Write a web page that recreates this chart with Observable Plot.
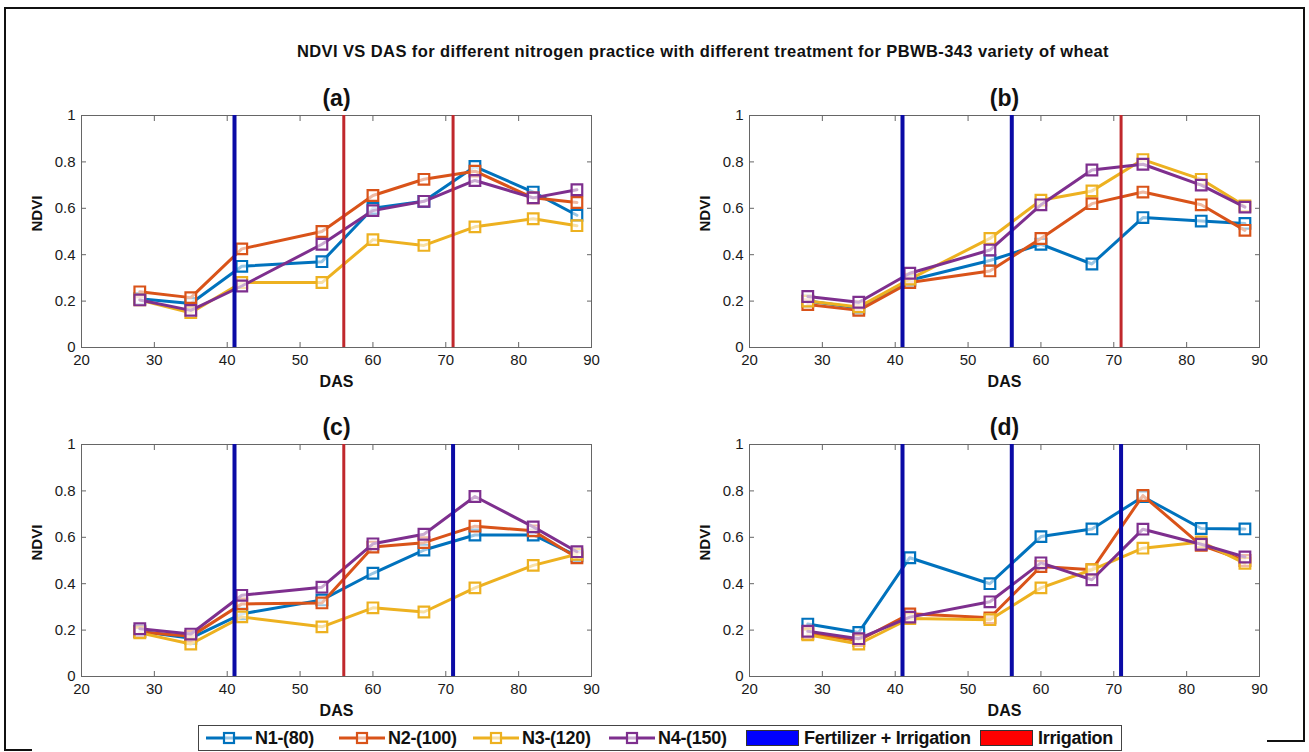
<!DOCTYPE html>
<html>
<head>
<meta charset="utf-8">
<script src="https://cdn.jsdelivr.net/npm/d3@7"></script>
<script src="https://cdn.jsdelivr.net/npm/@observablehq/plot@0.6"></script>
<style>
  body { margin: 0; background: #fff; font-family: Arial, "Liberation Sans", sans-serif; }
  #page { position: relative; width: 1309px; height: 752px; overflow: hidden; background: #fff; }
  .edge { position: absolute; background: #111; }
  .panel { position: absolute; }
  #title { position: absolute; top: 42px; left: 0; width: 1406px; text-align: center; font-size: 16.5px; font-weight: bold; letter-spacing: 0.4px; color: #111; white-space: nowrap; }
  #legend { position: absolute; left: 198px; top: 725px; width: 922px; height: 24px; border: 1px solid #444; background: #fff; }
  #legend .item { position: absolute; top: 0; height: 24px; display: flex; align-items: center; }
  #legend .lab { font-size: 18px; font-weight: bold; color: #111; white-space: nowrap; letter-spacing: -0.3px; }
  #legend .swatch { height: 16px; border: 1px solid #333; box-sizing: border-box; }
</style>
</head>
<body>
<div id="page">
  <div id="title">NDVI VS DAS for different nitrogen practice with different treatment for PBWB-343 variety of wheat</div>
</div>
<script>
// Days after sowing at which NDVI was measured
const das = [28, 35, 42, 53, 60, 67, 74, 82, 88];
const xTicks = [20, 30, 40, 50, 60, 70, 80, 90];
const yTicks = [0, 0.2, 0.4, 0.6, 0.8, 1];

// Nitrogen treatments (kg/ha) and their colours
const seriesNames = ["N1-(80)", "N2-(100)", "N3-(120)", "N4-(150)"];
const seriesColors = ["#0072BD", "#D95319", "#EDB120", "#7E2F8E"];

// Panel (a)
const a_N1 = [0.21, 0.19, 0.35, 0.37, 0.60, 0.63, 0.78, 0.67, 0.57];
const a_N2 = [0.24, 0.215, 0.425, 0.50, 0.655, 0.725, 0.76, 0.645, 0.625];
const a_N3 = [0.205, 0.15, 0.28, 0.28, 0.465, 0.44, 0.52, 0.555, 0.525];
const a_N4 = [0.205, 0.16, 0.265, 0.445, 0.59, 0.63, 0.72, 0.645, 0.68];
const a_fert = [41];
const a_irr = [56, 71];

// Panel (b)
const b_N1 = [0.20, 0.17, 0.29, 0.375, 0.445, 0.36, 0.56, 0.545, 0.535];
const b_N2 = [0.185, 0.16, 0.28, 0.33, 0.47, 0.62, 0.67, 0.615, 0.505];
const b_N3 = [0.20, 0.175, 0.295, 0.47, 0.635, 0.675, 0.81, 0.725, 0.61];
const b_N4 = [0.22, 0.195, 0.32, 0.42, 0.615, 0.765, 0.79, 0.70, 0.605];
const b_fert = [41, 56];
const b_irr = [71];

// Panel (c)
const c_N1 = [0.195, 0.165, 0.27, 0.33, 0.445, 0.545, 0.61, 0.61, 0.52];
const c_N2 = [0.192, 0.173, 0.313, 0.317, 0.558, 0.577, 0.648, 0.628, 0.512];
const c_N3 = [0.188, 0.14, 0.257, 0.214, 0.296, 0.278, 0.382, 0.479, 0.527];
const c_N4 = [0.206, 0.183, 0.35, 0.385, 0.572, 0.613, 0.776, 0.645, 0.538];
const c_fert = [41, 71];
const c_irr = [56];

// Panel (d)
const d_N1 = [0.226, 0.19, 0.512, 0.40, 0.603, 0.636, 0.775, 0.638, 0.636];
const d_N2 = [0.185, 0.155, 0.27, 0.253, 0.474, 0.46, 0.78, 0.565, 0.50];
const d_N3 = [0.18, 0.14, 0.25, 0.245, 0.382, 0.46, 0.553, 0.58, 0.488];
const d_N4 = [0.195, 0.163, 0.256, 0.322, 0.49, 0.417, 0.635, 0.57, 0.515];
const d_fert = [41, 56, 71];
const d_irr = [];

const fertLineColor = "#0b0ba6";
const irrLineColor = "#c0282c";
const fertSwatch = "#0000ff";
const irrSwatch = "#ff0000";
const axisGray = "#666";

const panels = [
  {label: "(a)", series: [a_N1, a_N2, a_N3, a_N4], fert: a_fert, irr: a_irr, left: 0, top: 70},
  {label: "(b)", series: [b_N1, b_N2, b_N3, b_N4], fert: b_fert, irr: b_irr, left: 668, top: 70},
  {label: "(c)", series: [c_N1, c_N2, c_N3, c_N4], fert: c_fert, irr: c_irr, left: 0, top: 399},
  {label: "(d)", series: [d_N1, d_N2, d_N3, d_N4], fert: d_fert, irr: d_irr, left: 668, top: 399}
];

function drawPanel(p) {
  const marks = [Plot.frame({stroke: axisGray, strokeWidth: 1})];
  p.series.forEach((vals, i) => {
    const rows = vals.map((v, j) => ({das: das[j], ndvi: v}));
    marks.push(Plot.line(rows, {x: "das", y: "ndvi", stroke: seriesColors[i], strokeWidth: 3}));
    marks.push(Plot.dot(rows, {x: "das", y: "ndvi", symbol: "square", r: 6, stroke: seriesColors[i], strokeWidth: 2.2, fill: "#fff", fillOpacity: 0.6}));
  });
  marks.push(Plot.ruleX(p.irr, {x: d => d, stroke: irrLineColor, strokeWidth: 3}));
  marks.push(Plot.ruleX(p.fert, {x: d => d, stroke: fertLineColor, strokeWidth: 4}));
  marks.push(
    Plot.axisX({anchor: "bottom", ticks: xTicks, tickSize: -5, tickPadding: 12, tickFormat: d => String(d), label: null, stroke: axisGray, fill: "#1a1a1a", fontSize: 15}),
    Plot.axisX({anchor: "top", ticks: xTicks, tickSize: -5, label: null, stroke: axisGray, fill: "none"}),
    Plot.axisY({anchor: "left", ticks: yTicks, tickSize: -5, tickPadding: 11, tickFormat: d3.format("~g"), label: null, stroke: axisGray, fill: "#1a1a1a", fontSize: 15}),
    Plot.axisY({anchor: "right", ticks: yTicks, tickSize: -5, label: null, stroke: axisGray, fill: "none"}),
    Plot.text([p.label], {text: d => d, frameAnchor: "top", dy: -26, fontSize: 23, fontWeight: "bold", fill: "#111"}),
    Plot.text(["DAS"], {text: d => d, frameAnchor: "bottom", dy: 39, fontSize: 16, fontWeight: "bold", fill: "#111"}),
    Plot.text(["NDVI"], {text: d => d, frameAnchor: "left", dx: -44, rotate: -90, fontSize: 15, fontWeight: "bold", fill: "#111"})
  );
  const svg = Plot.plot({
    width: 640,
    height: 330,
    marginLeft: 81,
    marginRight: 49,
    marginTop: 45,
    marginBottom: 53,
    x: {domain: [20, 90]},
    y: {domain: [0, 1]},
    style: {fontFamily: "Arial, 'Liberation Sans', sans-serif", fontSize: "15px", background: "transparent", overflow: "visible"},
    marks
  });
  const holder = document.createElement("div");
  holder.className = "panel";
  holder.style.left = p.left + "px";
  holder.style.top = p.top + "px";
  holder.appendChild(svg);
  return holder;
}

const page = document.getElementById("page");
panels.forEach(p => page.appendChild(drawPanel(p)));

// Outer border (open at the bottom except the two corners)
[
  {l: 5, t: 7, w: 1300, h: 2},
  {l: 4, t: 7, w: 2, h: 744},
  {l: 1303, t: 7, w: 2, h: 735},
  {l: 4, t: 749, w: 28, h: 2},
  {l: 1267, t: 740, w: 38, h: 2}
].forEach(e => {
  const d = document.createElement("div");
  d.className = "edge";
  Object.assign(d.style, {left: e.l + "px", top: e.t + "px", width: e.w + "px", height: e.h + "px"});
  page.appendChild(d);
});

// Legend
const legend = document.createElement("div");
legend.id = "legend";
page.appendChild(legend);
const lineItemX = [7, 140, 274, 410];
seriesNames.forEach((name, i) => {
  const it = document.createElement("div");
  it.className = "item";
  it.style.left = lineItemX[i] + "px";
  it.innerHTML =
    `<svg width="46" height="24" style="display:block"><line x1="0" x2="46" y1="12" y2="12" stroke="${seriesColors[i]}" stroke-width="3"/>` +
    `<rect x="18" y="7" width="10" height="10" fill="#fff" fill-opacity="0.6" stroke="${seriesColors[i]}" stroke-width="2.2"/></svg>` +
    `<span class="lab" style="margin-left:3px">${name}</span>`;
  legend.appendChild(it);
});
[
  {x: 547, color: fertSwatch, text: "Fertilizer + Irrigation"},
  {x: 781, color: irrSwatch, text: "Irrigation"}
].forEach(s => {
  const it = document.createElement("div");
  it.className = "item";
  it.style.left = s.x + "px";
  it.innerHTML = `<div class="swatch" style="width:53px;background:${s.color}"></div><span class="lab" style="margin-left:5px">${s.text}</span>`;
  legend.appendChild(it);
});
</script>
</body>
</html>
